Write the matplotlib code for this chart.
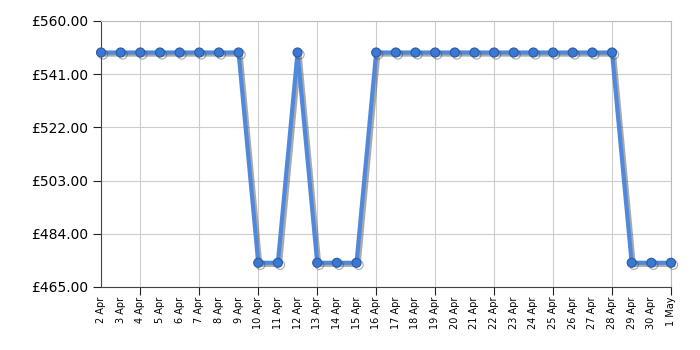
import matplotlib.pyplot as plt
import matplotlib.patheffects as pe

# daily price, 2 Apr - 1 May
dates = ['2 Apr', '3 Apr', '4 Apr', '5 Apr', '6 Apr', '7 Apr', '8 Apr', '9 Apr',
         '10 Apr', '11 Apr', '12 Apr', '13 Apr', '14 Apr', '15 Apr', '16 Apr',
         '17 Apr', '18 Apr', '19 Apr', '20 Apr', '21 Apr', '22 Apr', '23 Apr',
         '24 Apr', '25 Apr', '26 Apr', '27 Apr', '28 Apr', '29 Apr', '30 Apr', '1 May']
prices = [548.75, 548.75, 548.75, 548.75, 548.75, 548.75, 548.75, 548.75,
          473.65, 473.65, 548.75, 473.65, 473.65, 473.65, 548.75,
          548.75, 548.75, 548.75, 548.75, 548.75, 548.75, 548.75,
          548.75, 548.75, 548.75, 548.75, 548.75, 473.65, 473.65, 473.65]
yticks = [465, 484, 503, 522, 541, 560]

fig = plt.figure(figsize=(7, 3.5), dpi=100)
ax = fig.add_axes([101/700, 1 - 287/350, 570/700, 266/350])

x = list(range(len(dates)))
shadow = [pe.SimpleLineShadow(offset=(1.5, -1.5), shadow_color='#444444', alpha=0.45), pe.Normal()]
ax.plot(x, prices, color='#5089dc', lw=3, marker='o', ms=6.5,
        markerfacecolor='#3b78d2', markeredgecolor='#2a5ca6', markeredgewidth=0.8,
        path_effects=shadow, zorder=3, clip_on=False)

ax.set_xlim(0, len(dates) - 1)
ax.set_ylim(465, 560)
ax.set_yticks(yticks)
ax.set_yticklabels(['£%.2f' % v for v in yticks], fontsize=10)

ax.set_xticks(x)
ax.set_xticklabels(dates, rotation=90, fontsize=7)
for i, t in enumerate(ax.xaxis.get_major_ticks()):
    if i % 3 == 2 or i == len(dates) - 1:
        t.tick1line.set_markersize(6)
    else:
        t.tick1line.set_markersize(0)

for i in x:
    if i % 3 == 2:
        ax.axvline(i, color='#cccccc', lw=0.8, zorder=0)
ax.yaxis.grid(True, color='#cccccc', lw=0.8)
ax.set_axisbelow(True)

ax.spines['left'].set_color('#444444')
ax.spines['bottom'].set_color('#444444')
ax.spines['top'].set_color('#bbbbbb')
ax.spines['right'].set_color('#bbbbbb')
ax.tick_params(axis='y', length=6, color='#222222')
ax.tick_params(axis='x', color='#222222')

fig.savefig('out.png', dpi=100)
